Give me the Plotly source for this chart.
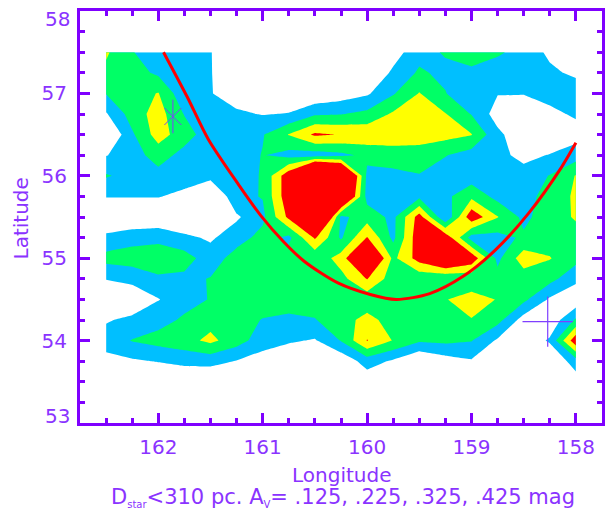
import plotly.graph_objects as go

# Grid nodes (degrees)
lon_nodes = [162.5, 162.25, 162.0, 161.75, 161.5, 161.25, 161.0, 160.75, 160.5, 160.25,
             160.0, 159.75, 159.5, 159.25, 159.0, 158.75, 158.5, 158.25, 158.0]
lat_nodes = [57.5, 57.25, 57.0, 56.75, 56.5, 56.25, 56.0, 55.75, 55.5, 55.25,
             55.0, 54.75, 54.5, 54.25, 54.0, 53.75, 53.5]

# Mean extinction A_V (mag) on the grid, one row per latitude (north to south)
av_grid = [
    [0.34, 0.23, 0.17, 0.16, 0.13, 0.03, 0.00, 0.00, 0.00, 0.00, 0.02, 0.08, 0.19, 0.235, 0.27, 0.235, 0.20, 0.10, 0.03],
    [0.30, 0.27, 0.205, 0.17, 0.13, 0.05, 0.02, 0.00, 0.00, 0.00, 0.02, 0.145, 0.24, 0.20, 0.205, 0.19, 0.18, 0.15, 0.10],
    [0.23, 0.28, 0.33, 0.15, 0.13, 0.08, 0.04, 0.05, 0.04, 0.07, 0.11, 0.215, 0.33, 0.23, 0.135, 0.13, 0.13, 0.16, 0.20],
    [0.115, 0.27, 0.37, 0.22, 0.16, 0.14, 0.12, 0.13, 0.21, 0.22, 0.25, 0.34, 0.38, 0.33, 0.22, 0.08, 0.05, 0.10, 0.14],
    [0.00, 0.21, 0.37, 0.27, 0.17, 0.18, 0.218, 0.33, 0.443, 0.42, 0.40, 0.39, 0.38, 0.36, 0.33, 0.15, 0.05, 0.05, 0.08],
    [0.12, 0.18, 0.27, 0.19, 0.17, 0.17, 0.23, 0.19, 0.175, 0.20, 0.25, 0.27, 0.27, 0.23, 0.18, 0.15, 0.10, 0.13, 0.18],
    [0.235, 0.19, 0.19, 0.17, 0.16, 0.17, 0.235, 0.50, 1.00, 0.80, 0.20, 0.20, 0.22, 0.17, 0.17, 0.17, 0.16, 0.23, 0.33],
    [0.13, 0.13, 0.13, 0.10, 0.00, 0.20, 0.23, 0.50, 1.00, 0.70, 0.19, 0.17, 0.20, 0.20, 0.30, 0.19, 0.18, 0.27, 0.34],
    [0.03, 0.03, 0.04, 0.03, 0.02, 0.11, 0.20, 0.45, 0.90, 0.20, 0.28, 0.20, 0.47, 0.13, 0.50, 0.33, 0.20, 0.28, 0.335],
    [0.15, 0.19, 0.20, 0.147, 0.11, 0.18, 0.26, 0.20, 0.44, 0.21, 0.43, 0.20, 0.50, 0.50, 0.18, 0.19, 0.24, 0.28, 0.29],
    [0.26, 0.27, 0.28, 0.27, 0.17, 0.27, 0.28, 0.27, 0.25, 0.37, 0.65, 0.30, 0.47, 0.60, 0.50, 0.20, 0.38, 0.33, 0.26],
    [0.13, 0.16, 0.21, 0.20, 0.23, 0.27, 0.28, 0.28, 0.27, 0.29, 0.43, 0.27, 0.25, 0.24, 0.25, 0.26, 0.27, 0.26, 0.15],
    [0.02, 0.04, 0.12, 0.19, 0.23, 0.27, 0.28, 0.28, 0.27, 0.27, 0.26, 0.27, 0.28, 0.32, 0.37, 0.32, 0.25, 0.11, 0.05],
    [0.115, 0.15, 0.19, 0.24, 0.29, 0.27, 0.22, 0.20, 0.22, 0.28, 0.36, 0.28, 0.27, 0.27, 0.32, 0.26, 0.08, 0.05, 0.24],
    [0.17, 0.23, 0.26, 0.29, 0.35, 0.27, 0.17, 0.14, 0.115, 0.23, 0.43, 0.32, 0.24, 0.25, 0.23, 0.11, 0.05, 0.14, 0.50],
    [0.09, 0.11, 0.13, 0.15, 0.16, 0.12, 0.08, 0.03, 0.02, 0.05, 0.17, 0.11, 0.02, 0.08, 0.115, 0.05, 0.00, 0.02, 0.18],
    [0.02, 0.02, 0.02, 0.04, 0.025, 0.02, 0.02, 0.02, 0.02, 0.02, 0.06, 0.02, 0.02, 0.02, 0.02, 0.02, 0.02, 0.02, 0.07],
]

# Contour levels (mag) and the fill colour of each band, lowest band first
av_levels = [0.125, 0.225, 0.325, 0.425]
band_colors = ["#ffffff", "#00bfff", "#00ff66", "#ffff00", "#ff0000"]

# Reference curve across the field
curve_lon = [161.95, 161.72, 161.52, 161.23, 161.02, 160.80, 160.60, 160.28,
             159.97, 159.72, 159.40, 159.08, 158.77, 158.45, 158.14, 158.00]
curve_lat = [57.50, 56.95, 56.44, 55.89, 55.52, 55.20, 54.96, 54.70,
             54.56, 54.50, 54.57, 54.78, 55.10, 55.55, 56.10, 56.40]

# Marked positions
star_lon, star_lat = [161.86], [56.72]
cross_lon, cross_lat = [158.27], [54.23]

# Axis ticks
x_ticks = [162, 161, 160, 159, 158]
y_ticks = [53, 54, 55, 56, 57, 58]

purple = "#7f00ff"
text_purple = "#8a33ff"
mark_purple = "#7f3fff"
font_family = "DejaVu Sans"

# stepped colour scale: band k is sampled at k/(n-1)
n = len(band_colors)
colorscale = []
for k, c in enumerate(band_colors):
    lo = 0.0 if k == 0 else (k - 0.5) / (n - 1)
    hi = 1.0 if k == n - 1 else (k + 0.5) / (n - 1)
    colorscale.append([lo, c])
    colorscale.append([hi, c])

step = av_levels[1] - av_levels[0]

fig = go.Figure()
fig.add_trace(go.Contour(
    x=lon_nodes, y=lat_nodes, z=av_grid,
    autocontour=False,
    contours=dict(start=av_levels[0], end=av_levels[-1] + 0.005, size=step,
                  coloring="fill", showlines=False),
    colorscale=colorscale, showscale=False,
    line=dict(width=0, smoothing=0),
    hoverinfo="skip",
))

fig.add_trace(go.Scatter(
    x=curve_lon, y=curve_lat, mode="lines",
    line=dict(color="#ff0000", width=3, shape="spline", smoothing=0.8),
    hoverinfo="skip",
))

# six-armed asterisk: vertical bar plus an X
fig.add_trace(go.Scatter(
    x=star_lon, y=star_lat, mode="markers",
    marker=dict(symbol="line-ns-open", size=24, color=mark_purple,
                line=dict(color=mark_purple, width=1)),
    hoverinfo="skip",
))
fig.add_trace(go.Scatter(
    x=star_lon, y=star_lat, mode="markers",
    marker=dict(symbol="x-thin-open", size=17, color=mark_purple,
                line=dict(color=mark_purple, width=1)),
    hoverinfo="skip",
))
fig.add_trace(go.Scatter(
    x=cross_lon, y=cross_lat, mode="markers",
    marker=dict(symbol="cross-thin-open", size=36, color=mark_purple,
                line=dict(color=mark_purple, width=1.2)),
    hoverinfo="skip",
))

axis_style = dict(
    showline=True, linewidth=3, linecolor=purple, mirror="ticks",
    ticks="inside", ticklen=10, tickwidth=2.5, tickcolor=purple,
    showgrid=False, zeroline=False,
    tickfont=dict(family=font_family, size=20, color=text_purple),
)

fig.update_xaxes(
    range=[162.75, 157.75], tickmode="array", tickvals=x_ticks,
    ticktext=[str(v) for v in x_ticks],
    minor=dict(tick0=158, dtick=0.25, ticks="inside", ticklen=5, tickwidth=2.5,
               tickcolor=purple, showgrid=False),
    ticklabelstandoff=4,
    **axis_style,
)
# end labels of the latitude axis sit just inside the frame, drawn as annotations below
fig.update_yaxes(
    range=[53, 58], tickmode="array", tickvals=y_ticks,
    ticktext=["" if v in (y_ticks[0], y_ticks[-1]) else str(v) for v in y_ticks],
    minor=dict(tick0=53, dtick=0.25, ticks="inside", ticklen=5, tickwidth=2.5,
               tickcolor=purple, showgrid=False),
    ticklabelstandoff=6,
    **axis_style,
)

label_font = dict(family=font_family, size=20, color=text_purple)
fig.add_annotation(text=str(y_ticks[-1]), xref="paper", yref="y", x=-0.016, y=y_ticks[-1] - 0.1,
                   xanchor="right", yanchor="middle", showarrow=False, font=label_font)
fig.add_annotation(text=str(y_ticks[0]), xref="paper", yref="y", x=-0.016, y=y_ticks[0] + 0.085,
                   xanchor="right", yanchor="middle", showarrow=False, font=label_font)

fig.add_annotation(
    text="Longitude", xref="paper", yref="paper", x=0.5, y=-0.126,
    xanchor="center", yanchor="middle", showarrow=False, font=label_font,
)
fig.add_annotation(
    text="Latitude", xref="paper", yref="paper", x=-0.114, y=0.4976,
    xanchor="center", yanchor="middle", textangle=-90, showarrow=False, font=label_font,
)
fig.add_annotation(
    text=("D<sub><span style='font-size:10px'>star</span></sub>&lt;310 pc. "
          "A<sub><span style='font-size:10px'>V</span></sub>= .125, .225, .325, .425 mag"),
    xref="paper", yref="paper", x=0.503, y=-0.182,
    xanchor="center", yanchor="middle", showarrow=False,
    font=dict(family=font_family, size=21, color=text_purple),
)

fig.update_layout(
    width=613, height=511,
    margin=dict(l=80, r=8, t=11, b=88),
    paper_bgcolor="white", plot_bgcolor="white",
    showlegend=False,
)

fig.write_html("out.html")
